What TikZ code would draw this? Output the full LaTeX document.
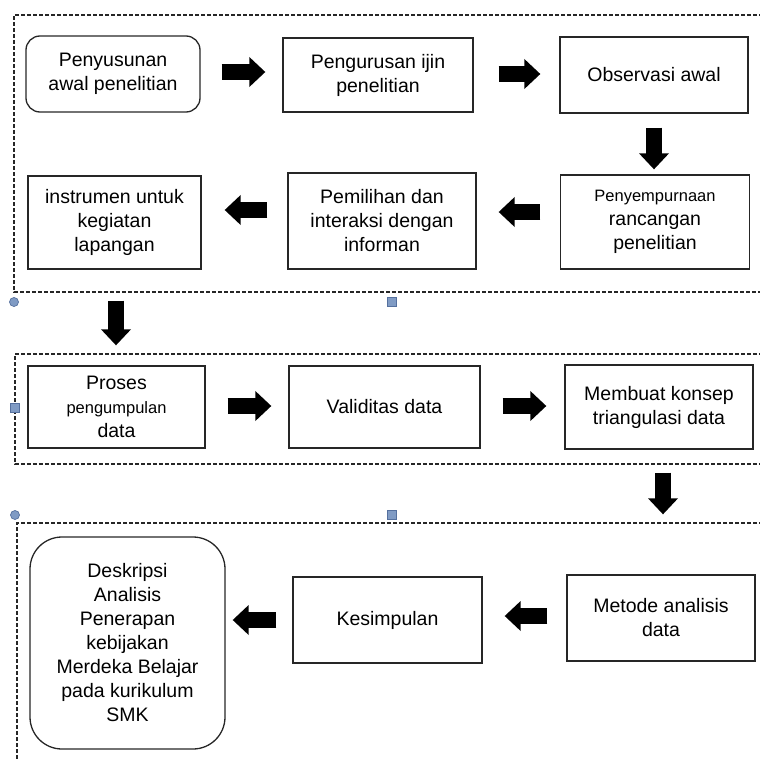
\documentclass[tikz,border=0pt]{standalone}
\usepackage{fontspec}
\setmainfont{Liberation Sans}
\usetikzlibrary{arrows.meta}
\definecolor{hfill}{RGB}{128,155,196}
\definecolor{hdraw}{RGB}{85,112,158}
\begin{document}
\begin{tikzpicture}[x=1pt,y=-1pt,
  box/.style={draw=black!85, line width=1.3pt, align=center, inner sep=2pt,
    font=\fontsize{19.5}{24}\selectfont},
  blkarrow/.style={line width=16pt, -{Triangle[width=29pt,length=16pt]}},
  frame/.style={dash pattern=on 4pt off 2pt, line width=1.3pt, draw=black!85},
  hround/.style={circle, fill=hfill, draw=hdraw, line width=0.7pt, minimum size=9pt, inner sep=0pt},
  hsquare/.style={rectangle, fill=hfill, draw=hdraw, line width=0.7pt, minimum size=9pt, inner sep=0pt}]
\useasboundingbox (0,0) rectangle (760,760);

% dashed frames
\draw[frame] (775,15) -- (14,15) -- (14,292) -- (775,292);
\draw[frame] (775,354) -- (15,354) -- (15,464) -- (775,464);
\draw[frame] (775,523) -- (17,523) -- (17,775);

% handles
\node[hround] (h1) at (14,302) {};
\node[hsquare] (h2) at (392,302) {};
\node[hsquare] (h3) at (15,408) {};
\node[hround] (h4) at (15,515) {};
\node[hsquare] (h5) at (392,515) {};

% row 1
\node[box, rounded corners=14pt, minimum width=174pt, minimum height=76pt] (n1) at (113,74) {Penyusunan\\awal penelitian};
\node[box, minimum width=190pt, minimum height=74pt] (n2) at (378,75) {Pengurusan ijin\\penelitian};
\node[box, minimum width=188pt, minimum height=76pt] (n3) at (654,75) {Observasi awal};
% row 2
\node[box, minimum width=189pt, minimum height=94pt] (n4) at (655,222) {{\fontsize{16.5}{24}\selectfont Penyempurnaan}\\rancangan\\penelitian};
\node[box, minimum width=188pt, minimum height=96pt] (n5) at (382,221) {Pemilihan dan\\interaksi dengan\\informan};
\node[box, minimum width=173pt, minimum height=93pt] (n6) at (114.5,222.5) {instrumen untuk\\kegiatan\\lapangan};
% row 3
\node[box, minimum width=177pt, minimum height=82pt] (n7) at (116.5,407) {Proses\\{\fontsize{16.5}{24}\selectfont pengumpulan}\\data};
\node[box, minimum width=191pt, minimum height=82pt] (n8) at (384.5,407) {Validitas data};
\node[box, minimum width=188pt, minimum height=84pt] (n9) at (659,407) {Membuat konsep\\triangulasi data};
% row 4
\node[box, rounded corners=32pt, minimum width=195pt, minimum height=212pt] (n10) at (127.5,643) {Deskripsi\\Analisis\\Penerapan\\kebijakan\\Merdeka Belajar\\pada kurikulum\\SMK};
\node[box, minimum width=189pt, minimum height=86pt] (n11) at (387.5,620) {Kesimpulan};
\node[box, minimum width=188pt, minimum height=86pt] (n12) at (661,618) {Metode analisis\\data};

% block arrows
\draw[blkarrow, shorten <=21pt, shorten >=17pt] ([yshift=2pt]n1.east) -- ([yshift=2pt]n1.east -| n2.west);
\draw[blkarrow, shorten <=25pt, shorten >=19pt] ([yshift=1pt]n2.east) -- ([yshift=1pt]n2.east -| n3.west);
\draw[blkarrow, shorten <=14pt, shorten >=5pt] (n3.south) -- (n3.south |- n4.north);
\draw[blkarrow, shorten <=19.5pt, shorten >=22pt] ([yshift=10pt]n4.west) -- ([yshift=10pt]n4.west -| n5.east);
\draw[blkarrow, shorten <=20pt, shorten >=23pt] ([yshift=11pt]n5.west) -- ([yshift=11pt]n5.west -| n6.east);
\draw[blkarrow, shorten <=31pt, shorten >=20pt] ([xshift=1.5pt]n6.south) -- ([xshift=1.5pt]n6.south |- n7.north);
\draw[blkarrow, shorten <=22pt, shorten >=17pt] ([yshift=1pt]n7.east) -- ([yshift=1pt]n7.east -| n8.west);
\draw[blkarrow, shorten <=22pt, shorten >=18pt] ([yshift=1pt]n8.east) -- ([yshift=1pt]n8.east -| n9.west);
\draw[blkarrow, shorten <=23pt, shorten >=60pt] ([xshift=4pt]n9.south) -- ([xshift=4pt]n9.south |- n12.north);
\draw[blkarrow, shorten <=19pt, shorten >=22pt] ([yshift=2pt]n12.west) -- ([yshift=2pt]n12.west -| n11.east);
\draw[blkarrow, shorten <=16pt, shorten >=7pt] (n11.west) -- (n11.west -| n10.east);
\end{tikzpicture}
\end{document}
